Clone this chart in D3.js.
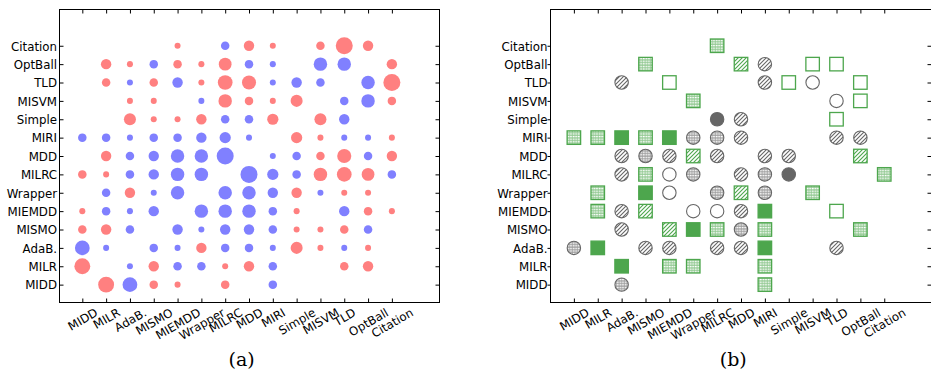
<!DOCTYPE html>
<html>
<head>
<meta charset="utf-8">
<script src="https://cdn.jsdelivr.net/npm/d3@7"></script>
<style>
  body { margin: 0; background: #fff; }
</style>
</head>
<body>
<svg id="chart" width="931" height="375"></svg>
<script>
// Methods compared, in axis order (bottom-to-top on y, left-to-right on x)
const methods = ["MIDD", "MILR", "AdaB.", "MISMO", "MIEMDD", "Wrapper", "MILRC",
                 "MDD", "MIRI", "Simple", "MISVM", "TLD", "OptBall", "Citation"];

// (a) pairwise score: sign gives colour (+ red, - blue), magnitude gives marker area
const pairScores = [
  [ 0,  7, -6,  2,  1,  0,  2,  0, -2,    0,  0,  0,    0,  0],
  [ 7,  0, -1,  3, -2, -2,  1,  3, -2,    0,  0,  2,    3,  0],
  [-6, -1,  0, -2, -1,  3, -2, -2, -1,    4,  1, -1,    1,  0],
  [ 2,  3, -2,  0, -3, -1, -3, -3, -2,    1,  1,  2,   -2,  0],
  [ 1, -2, -1, -3,  0, -5, -5, -5, -2,    1,  0, -3,    2,  1],
  [ 0, -2,  3, -1, -5,  0, -5, -5, -3,    3, -1,  1,    1,  0],
  [ 2,  1, -2, -3, -5, -5,  0, -8, -3.5, -2,  5,  6,  4.5, -2],
  [ 0,  3, -2, -3, -5, -5, -8,  0, -1,   -2,  2,  5.5, -2,  3],
  [-2, -2, -1, -2, -2, -3, -3.5, -1, 0,  3.5, 1, -1,   -1,  1],
  [ 0,  0,  4,  1,  1,  3, -2, -2,  3.5,  0,  4, -3,    0,  0],
  [ 0,  0,  1,  1,  0, -1,  5,  2,  1,    4,  0, -2,   -5,  2],
  [ 0,  2, -1,  2, -3,  1,  6,  5.5, -1, -3, -2,  0,   -5,  8],
  [ 0,  3,  1, -2,  2,  1,  4.5, -2, -1,  0, -5, -5,    0,  3],
  [ 0,  0,  0,  0,  1,  0, -2,  3,  1,    0,  2,  8,    3,  0]
];

// (b) pairwise outcome: c = circle, s = square; h = hatched, d = dotted, f = filled, e = empty; . = none
const pairOutcomes = [
  ".  .  cd .  .  .  .  .  sd .  .  .  .  .",
  ".  .  sf .  sd sd .  .  sd .  .  .  .  .",
  "cd sf .  ch ch .  ch ch sf .  .  ch .  .",
  ".  .  ch .  sh sf sd cd sd .  .  .  sd .",
  ".  sd ch sh .  ce ce ch sf .  .  se .  .",
  ".  sd .  sf ce .  cd sh cd .  sd .  .  .",
  ".  .  ch sd ce cd .  ch cd cf .  .  .  sd",
  ".  .  ch cd ch sh ch .  ch ch .  .  sh .",
  "sd sd sf sd sf cd cd ch .  .  .  ch ch .",
  ".  .  .  .  .  .  cf ch .  .  .  se .  .",
  ".  .  .  .  .  sd .  .  .  .  .  ce se .",
  ".  .  ch .  se .  .  .  ch se ce .  se .",
  ".  .  .  sd .  .  .  sh ch .  se se .  .",
  ".  .  .  .  .  .  sd .  .  .  .  .  .  ."
].map(r => r.trim().split(/\s+/));

const panelLabels = ["(a)", "(b)"];

const svg = d3.select("#chart");
const FS = 11.8;
const FONT = "'DejaVu Sans', sans-serif";
const idx = d3.range(methods.length);

// shared vertical scale
const y = d3.scaleLinear().domain([-1, 15]).range([303, 9]);
const xA = d3.scaleLinear().domain([-1, 15]).range([58.5, 439.5]);
const xB = d3.scaleLinear().domain([-1, 15]).range([550, 932]);

// fill patterns for panel (b)
const defs = svg.append("defs");
const gray = "#666666", green = "#4da64d";
function hatch(id, color) {
  const p = defs.append("pattern").attr("id", id).attr("patternUnits", "userSpaceOnUse")
    .attr("width", 4).attr("height", 4);
  p.append("rect").attr("width", 4).attr("height", 4).attr("fill", "#fff");
  p.append("path").attr("d", "M-1,1 L1,-1 M0,4 L4,0 M3,5 L5,3")
    .attr("stroke", color).attr("stroke-width", 1.1);
}
function dots(id, bg) {
  const p = defs.append("pattern").attr("id", id).attr("patternUnits", "userSpaceOnUse")
    .attr("width", 2.6).attr("height", 2.6);
  p.append("rect").attr("width", 2.6).attr("height", 2.6).attr("fill", bg);
  p.append("rect").attr("x", 0.6).attr("y", 0.7).attr("width", 1.8).attr("height", 1.4)
    .attr("fill", "#fff");
}
hatch("hatchGray", gray);
hatch("hatchGreen", green);
dots("dotGray", "#9a9a9a");
dots("dotGreen", "#8cc68c");

const fillFor = {
  c: { h: "url(#hatchGray)", d: "url(#dotGray)", f: gray, e: "#fff" },
  s: { h: "url(#hatchGreen)", d: "url(#dotGreen)", f: green, e: "#fff" }
};

function drawFrame(x) {
  const g = svg.append("g");
  const [l, r] = x.range(), [b, t] = y.range();
  const L = Math.round(l) + 0.5, R = Math.round(r) - 0.5, T = Math.round(t) + 0.5, B = Math.round(b) - 0.5;
  g.append("rect").attr("x", L).attr("y", T).attr("width", R - L).attr("height", B - T)
    .attr("fill", "none").attr("stroke", "#000").attr("stroke-width", 1);
  return { L, R, T, B };
}

function styleText(sel) {
  sel.style("font-size", FS + "px").style("font-family", FONT).attr("fill", "#000");
}

function drawAxes(x, fr, leftTickOut) {
  // bottom axis with rotated labels
  const gb = svg.append("g").attr("transform", `translate(0,${fr.B})`)
    .call(d3.axisBottom(x).tickValues(idx).tickFormat(i => methods[i]).tickSizeInner(-4).tickSizeOuter(0));
  gb.select(".domain").remove();
  gb.selectAll("line").attr("stroke", "#000");
  const ang = 30 * Math.PI / 180;
  gb.selectAll("text").each(function () {
    const t = d3.select(this);
    styleText(t);
    t.attr("text-anchor", "middle").attr("dy", null);
    const w = this.getComputedTextLength();
    const h = FS * 1.164;
    const cy = 3 + (w * Math.sin(ang) + h * Math.cos(ang)) / 2;
    t.attr("x", 0).attr("y", FS * 0.346)
      .attr("transform", `translate(0,${cy}) rotate(-30)`);
  });
  // top ticks
  const gt = svg.append("g").attr("transform", `translate(0,${fr.T})`)
    .call(d3.axisTop(x).tickValues(idx).tickFormat("").tickSizeInner(-4).tickSizeOuter(0));
  gt.select(".domain").remove();
  gt.selectAll("line").attr("stroke", "#000");
  // left axis with labels
  const gl = svg.append("g").attr("transform", `translate(${fr.L},0)`)
    .call(d3.axisLeft(y).tickValues(idx).tickFormat(i => methods[i])
      .tickSizeInner(leftTickOut ? 3 : -4).tickSizeOuter(0).tickPadding(leftTickOut ? 0 : 3));
  gl.select(".domain").remove();
  gl.selectAll("line").attr("stroke", "#000");
  styleText(gl.selectAll("text"));
  gl.selectAll("text").attr("dy", "0.36em");
  if (!leftTickOut) gl.selectAll("text").attr("x", -2.5);
  // right ticks
  const gr = svg.append("g").attr("transform", `translate(${fr.R},0)`)
    .call(d3.axisRight(y).tickValues(idx).tickFormat("").tickSizeInner(-4).tickSizeOuter(0));
  gr.select(".domain").remove();
  gr.selectAll("line").attr("stroke", "#000");
}

// ----- panel (a): bubble matrix -----
const cellsA = [];
pairScores.forEach((row, r) => row.forEach((v, c) => { if (v !== 0) cellsA.push({ r, c, v }); }));
const rA = d3.scaleSqrt().domain([0, 8]).range([0, 8.5]);
const colA = d3.scaleOrdinal().domain([1, -1]).range(["#ff8080", "#8080ff"]);

const frA = drawFrame(xA);
svg.append("g").selectAll("circle").data(cellsA).join("circle")
  .attr("cx", d => xA(d.c)).attr("cy", d => y(d.r))
  .attr("r", d => rA(Math.abs(d.v)))
  .attr("fill", d => colA(Math.sign(d.v)));
drawAxes(xA, frA, false);

// ----- panel (b): outcome matrix -----
const cellsB = [];
pairOutcomes.forEach((row, r) => row.forEach((code, c) => {
  if (code !== ".") cellsB.push({ r, c, shape: code[0], fill: code[1] });
}));
const frB = drawFrame(xB);
const gB = svg.append("g");
const S = 13.5;
gB.selectAll("rect.mk").data(cellsB.filter(d => d.shape === "s")).join("rect")
  .attr("class", "mk")
  .attr("x", d => xB(d.c) - S / 2).attr("y", d => y(d.r) - S / 2)
  .attr("width", S).attr("height", S)
  .attr("fill", d => fillFor.s[d.fill])
  .attr("stroke", green).attr("stroke-width", 1.3);
gB.selectAll("circle").data(cellsB.filter(d => d.shape === "c")).join("circle")
  .attr("cx", d => xB(d.c)).attr("cy", d => y(d.r)).attr("r", 6.7)
  .attr("fill", d => fillFor.c[d.fill])
  .attr("stroke", gray).attr("stroke-width", 1.1);
drawAxes(xB, frB, true);

// panel captions
svg.selectAll("text.cap").data(panelLabels).join("text")
  .attr("class", "cap")
  .attr("x", (d, i) => [241.7, 733.3][i]).attr("y", 366)
  .attr("text-anchor", "middle")
  .style("font-family", "'DejaVu Serif', serif").style("font-size", "19px")
  .text(d => d);
</script>
</body>
</html>
